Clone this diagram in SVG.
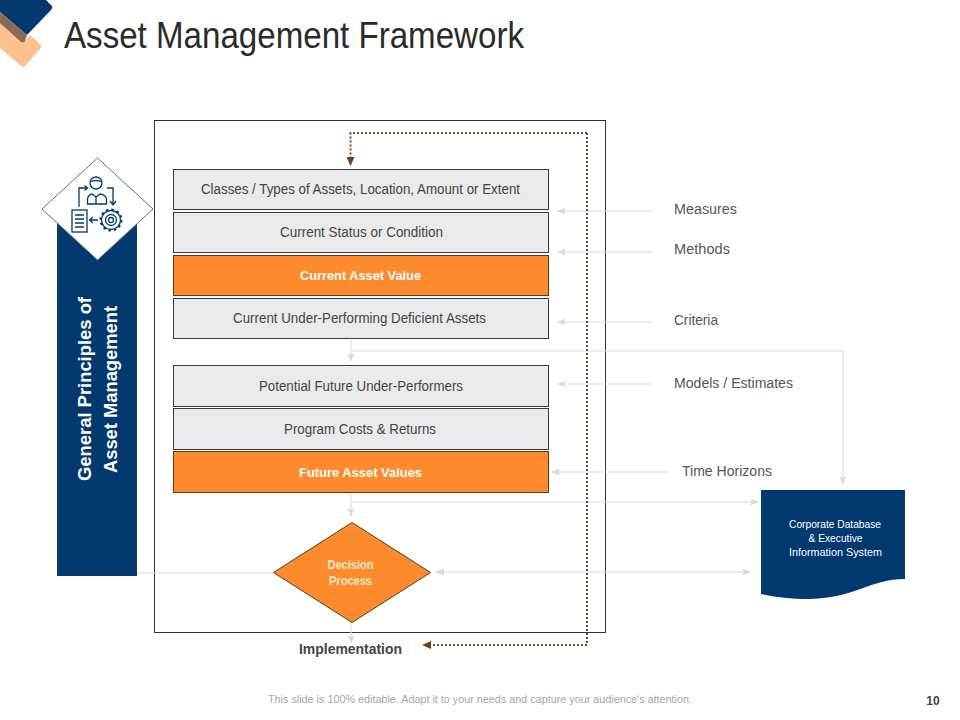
<svg xmlns="http://www.w3.org/2000/svg" width="960" height="720" viewBox="0 0 960 720">
<style>
text{font-family:"Liberation Sans",Arial,sans-serif;text-anchor:middle}
.fit{}
.box{fill:#e9eaec;stroke:#3a3a3a;stroke-width:1}
.org{fill:#fd8a2c;stroke:#5a3a1a;stroke-width:1}
.t{font-size:14px;fill:#444}
.w{font-size:13.500px;fill:#fff;font-weight:700}
.lab{font-size:14px;fill:#555;text-anchor:start}
.c{fill:none;stroke:#d9d9d9;stroke-width:1}
.d{fill:none;stroke:#7a4a1e;stroke-width:2;stroke-dasharray:2 2}
.i{fill:none;stroke:#03396f;stroke-width:1.300}
</style>
<defs>
<marker id="g" markerWidth="10" markerHeight="8" refX="8" refY="4" orient="auto" markerUnits="userSpaceOnUse"><path d="M0 0.500L9 4L0 7.500L2 4Z" fill="#d9d9d9"/></marker>
<marker id="b" markerWidth="10" markerHeight="8" refX="8" refY="4" orient="auto" markerUnits="userSpaceOnUse"><path d="M0 0L9 4L0 8Z" fill="#7a3f10"/></marker>
</defs>
<g id="corner">
<path d="M0 22L23 43L30 35L41 45Q42 47 40 49L25 66Q23 68 21 66L0 48Z" fill="#fdc08f"/>
<path d="M0 -2H44L52 6Q53 8 51 10L27 35L0 12Z" fill="#03396f"/>
<path d="M0 12L27 35L25 41Q23 44 20 41L0 23Z" fill="#8a6a55"/>
</g>
<text id="title" x="294" y="48" style="font-size:36px;fill:#2b2b2b" textLength="460" lengthAdjust="spacingAndGlyphs">Asset Management Framework</text>
<g id="frame"><rect x="154.500" y="120.500" width="451" height="512" fill="#fff" stroke="#333" stroke-width="1"/></g>
<g id="principles">
<rect x="57" y="215" width="80" height="361" fill="#03396f"/>
<text transform="translate(91 389) rotate(-90)" style="font-size:18px;fill:#fff;font-weight:700" textLength="184" lengthAdjust="spacingAndGlyphs">General Principles of</text>
<text transform="translate(117 389.500) rotate(-90)" style="font-size:18px;fill:#fff;font-weight:700" textLength="167" lengthAdjust="spacingAndGlyphs">Asset Management</text>
</g>
<g id="icon-diamond">
<path d="M97.500 158L153 209L97.500 260L42 209Z" fill="#fff" stroke="#5f6f80" stroke-width="1"/>
<g class="i">
<circle cx="96" cy="183" r="6"/>
<path d="M87.500 204V199Q88 195 92 194L96 197L100 194Q106 195 106.500 199V204Z"/>
<path d="M96 197V204M90 182Q96 179 102 182"/>
<path d="M79 207V188H87M84.500 185.500L87.500 188L84.500 190.500"/>
<path d="M107 188H113V204M110 201L113 205L116 201"/>
<rect x="72" y="210" width="15" height="22"/>
<path d="M75 215H84M75 219H84M75 223H84M75 227H84"/>
<path d="M98 220H90M93 217L89.500 220L93 223"/>
<circle cx="111" cy="220" r="10.500" stroke-dasharray="2.500 3" stroke-width="2"/>
<circle cx="111" cy="220" r="9.500"/>
<circle cx="111" cy="220" r="5.500"/>
<circle cx="111" cy="220" r="2.500"/>
</g>
</g>
<g id="connectors">
<path class="c" d="M351 340V361" marker-end="url(#g)"/>
<path class="c" d="M351 351H843V484" marker-end="url(#g)"/>
<path class="c" d="M351 493V516" marker-end="url(#g)"/>
<path class="c" d="M351 502H758" marker-end="url(#g)"/>
<path class="c" d="M436 572H750" marker-end="url(#g)"/>
<path d="M435 572L444 568.500V575.500Z" fill="#d9d9d9"/>
<path class="c" d="M137 573H273"/>
<path class="c" d="M351 622V643" marker-end="url(#g)"/>
<path class="c" d="M652 211H558" marker-end="url(#g)"/>
<path class="c" d="M652 252H558" marker-end="url(#g)"/>
<path class="c" d="M652 322H558" marker-end="url(#g)"/>
<path class="c" d="M652 384H558" marker-end="url(#g)"/>
<path class="c" d="M669 472H552" marker-end="url(#g)"/>
<path class="d" d="M587 133H350.500V165" marker-end="url(#b)"/>
<path class="d" d="M587 133V645H423" marker-end="url(#b)"/>
</g>
<g id="n1"><rect class="box" x="173.500" y="169.500" width="375" height="40"/><text class="t" x="360.500" y="194" textLength="319" lengthAdjust="spacingAndGlyphs">Classes / Types of Assets, Location, Amount or Extent</text></g>
<g id="n2"><rect class="box" x="173.500" y="212.500" width="375" height="40"/><text class="t" x="361.500" y="237" textLength="163" lengthAdjust="spacingAndGlyphs">Current Status or Condition</text></g>
<g id="n3"><rect class="org" x="173.500" y="255.500" width="375" height="40"/><text class="w" x="360.500" y="280" textLength="121" lengthAdjust="spacingAndGlyphs">Current Asset Value</text></g>
<g id="n4"><rect class="box" x="173.500" y="298.500" width="375" height="40"/><text class="t" x="359.500" y="323" textLength="253" lengthAdjust="spacingAndGlyphs">Current Under-Performing Deficient Assets</text></g>
<g id="n5"><rect class="box" x="173.500" y="365.500" width="375" height="41"/><text class="t" x="361" y="391" textLength="204" lengthAdjust="spacingAndGlyphs">Potential Future Under-Performers</text></g>
<g id="n6"><rect class="box" x="173.500" y="408.500" width="375" height="41"/><text class="t" x="360" y="434" textLength="152" lengthAdjust="spacingAndGlyphs">Program Costs &amp; Returns</text></g>
<g id="n7"><rect class="org" x="173.500" y="451.500" width="375" height="41"/><text class="w" x="360.500" y="477" textLength="123" lengthAdjust="spacingAndGlyphs">Future Asset Values</text></g>
<g id="decision"><path class="org" d="M352 522.500L430.500 572.500L352 622.500L273.500 572.500Z"/>
<text x="350.500" y="569" style="font-size:12px;font-weight:700;fill:#ffe9c8" textLength="46" lengthAdjust="spacingAndGlyphs">Decision</text>
<text x="350.500" y="585" style="font-size:12px;font-weight:700;fill:#ffe9c8" textLength="43" lengthAdjust="spacingAndGlyphs">Process</text></g>
<text id="implementation" x="350.500" y="654" style="font-size:14.500px;font-weight:700;fill:#444" textLength="103" lengthAdjust="spacingAndGlyphs">Implementation</text>
<text class="lab" x="674" y="214" textLength="63" lengthAdjust="spacingAndGlyphs">Measures</text>
<text class="lab" x="674" y="254" textLength="56" lengthAdjust="spacingAndGlyphs">Methods</text>
<text class="lab" x="674" y="325" textLength="44" lengthAdjust="spacingAndGlyphs">Criteria</text>
<text class="lab" x="674" y="388" textLength="119" lengthAdjust="spacingAndGlyphs">Models / Estimates</text>
<text class="lab" x="682" y="476" textLength="90" lengthAdjust="spacingAndGlyphs">Time Horizons</text>
<g id="database">
<path d="M761 490H905V579C870 579 855 598 810 599C790 599 775 597 761 594Z" fill="#03396f"/>
<text x="835" y="528" style="font-size:10.500px;fill:#fff" textLength="92" lengthAdjust="spacingAndGlyphs">Corporate Database</text>
<text x="835.500" y="542" style="font-size:10.500px;fill:#fff" textLength="54" lengthAdjust="spacingAndGlyphs">&amp; Executive</text>
<text x="835.500" y="556" style="font-size:10.500px;fill:#fff" textLength="93" lengthAdjust="spacingAndGlyphs">Information System</text>
</g>
<text x="480" y="703" style="font-size:10px;fill:#a6a6a6" textLength="424" lengthAdjust="spacingAndGlyphs">This slide is 100% editable. Adapt it to your needs and capture your audience's attention.</text>
<text x="933" y="705" style="font-size:12px;font-weight:700;fill:#444">10</text>
</svg>
